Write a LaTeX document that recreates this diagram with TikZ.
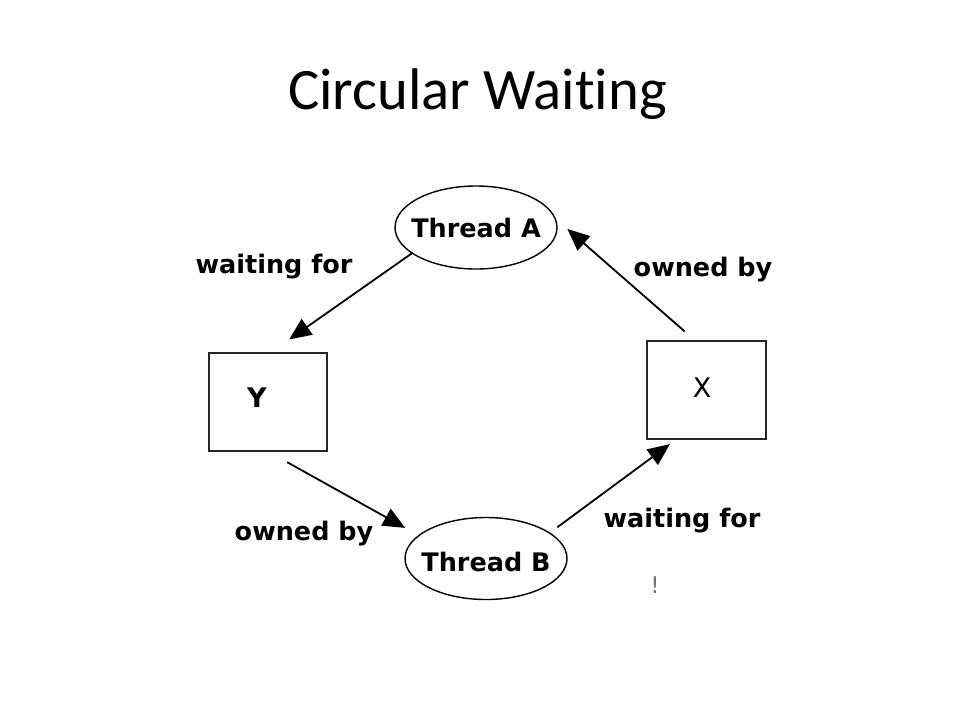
\documentclass[tikz,border=0pt]{standalone}
\usepackage{fontspec}
\setmainfont{Carlito}[Ligatures=NoCommon]
\newfontfamily\djfont{DejaVu Sans}
\usetikzlibrary{arrows.meta,shapes.geometric,calc}
\begin{document}
\begin{tikzpicture}[x=1pt,y=-1pt,
  lbl/.style={font=\djfont\bfseries\fontsize{25.5}{30}\selectfont, inner sep=0pt, anchor=base},
  thrtxt/.style={font=\djfont\bfseries\fontsize{25.5}{30}\selectfont, inner sep=0pt},
  thr/.style={draw=black, line width=1.4pt, ellipse, minimum width=162pt, minimum height=83pt, inner sep=0pt},
  res/.style={draw=black!85, line width=2pt, rectangle, inner sep=0pt},
  arr/.style={line width=1.8pt, -{Triangle[length=22pt,width=19pt]}},
]
\useasboundingbox (0,0) rectangle (960,720);
\node[font=\fontsize{58.7}{70}\selectfont, anchor=base, inner sep=0pt] (title) at (477.5,109) {Circular Waiting};

\node[thr] (A) at (476,227.5) {};
\node[thrtxt] (At) at (476,228) {Thread A};
\node[thr, minimum height=82pt] (B) at (486,558.5) {};
\node[thrtxt] (Bt) at (486,562) {Thread B};

\node[res, minimum width=118pt, minimum height=98pt] (Y) at (268,401.5) {};
\node[res, minimum width=119pt, minimum height=98pt] (X) at (706.5,390) {};
\node[font=\djfont\bfseries\fontsize{27}{30}\selectfont, inner sep=0pt] (Yt) at (257,398) {Y};
\node[font=\djfont\fontsize{27}{30}\selectfont, inner sep=0pt] (Xt) at (702,388) {X};

\draw[arr, shorten >=21pt] (A.202) -- ([xshift=4pt]Y.north);
\draw[arr, shorten <=13pt, shorten >=15pt] ([xshift=-12pt]X.north) -- (A.6);
\draw[arr, shorten <=22pt, shorten >=15pt] (Y.south) -- (B.161);
\draw[arr, shorten <=9pt, shorten >=7pt] (B.22) -- ([xshift=-31pt]X.south);

\node[lbl] (l1) at (274,273) {waiting for};
\node[lbl] (l2) at (703,276) {owned by};
\node[lbl] (l3) at (304,540) {owned by};
\node[lbl] (l4) at (682,527) {waiting for};
\node[font=\djfont\fontsize{23}{26}\selectfont, text=black!55, inner sep=0pt] (ex) at (655,585) {!};
\end{tikzpicture}
\end{document}
